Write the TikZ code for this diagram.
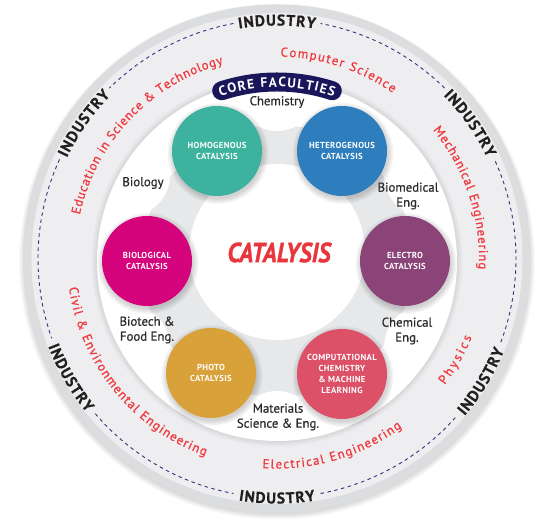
\documentclass[tikz,border=0pt]{standalone}
\usepackage{fontspec}
\setmainfont{PT Sans}
\usepackage{graphicx}
\usetikzlibrary{decorations.text}

\definecolor{rimgray}{HTML}{DCDDDF}
\definecolor{ringgray}{HTML}{EEEEF0}
\definecolor{neckgray}{HTML}{E7E8EA}
\definecolor{dashnavy}{HTML}{34317A}
\definecolor{indtext}{HTML}{231F20}
\definecolor{fieldred}{HTML}{EE3A3F}
\definecolor{bannernavy}{HTML}{1A165C}
\definecolor{labeltext}{HTML}{2A2A2A}
\definecolor{homocol}{HTML}{3DB29E}
\definecolor{heterocol}{HTML}{2E7EBE}
\definecolor{biocol}{HTML}{D5037C}
\definecolor{electrocol}{HTML}{8B4478}
\definecolor{photocol}{HTML}{D9A13A}
\definecolor{compcol}{HTML}{DC5068}
\definecolor{catred}{HTML}{E8363C}

\begin{document}
\begin{tikzpicture}[x=1pt,y=1pt,
  catcircle/.style={circle, minimum size=90pt, inner sep=0pt, text=white, align=center,
    font=\bfseries\fontsize{8.7}{10.7}\selectfont\addfontfeature{LetterSpace=4}},
  fieldlabel/.style={text=labeltext, align=center, inner sep=0pt,
    font=\fontsize{12.8}{15}\selectfont\addfontfeature{FakeBold=0.6}},
  dashline/.style={dashnavy, line width=0.9pt, dash pattern=on 3.5pt off 3.5pt},
  industrytext/.style={decorate, decoration={text along path, text align=fit to path,
    text={|\fontsize{15.5}{18}\selectfont\bfseries\addfontfeature{FakeBold=0.5}\color{indtext}|INDUSTRY}}},
  fieldtext/.style={decorate, decoration={text along path, text align=fit to path,
    text={|\fontsize{12.8}{14}\selectfont\addfontfeature{FakeBold=0.9}\color{fieldred}|#1}}},
  bannertext/.style={decorate, decoration={text along path, text align=fit to path,
    text={|\fontsize{13.5}{15}\selectfont\bfseries\color{white}|CORE FACULTIES}}}
]
\useasboundingbox (0,0) rectangle (549,524);
\fill[white] (0,0) rectangle (549,524);
\coordinate (C0) at (277,265.5);
\coordinate (C1) at (277,263);

% outer disc with soft shadow
\foreach \k in {1,...,6} \fill[black, opacity=0.022] ([yshift=-3pt]C0) circle[radius=252+\k];
\fill[rimgray] (C0) circle[radius=254];
\fill[ringgray] (C0) circle[radius=245.5];

\begin{scope}[shift={(C0)}]
  % dashed circle
  \foreach \a/\b in {-139.5/-100.5, -79.5/-41.5, -20.5/24.5, 45.5/79.5, 100.5/134.5, 155.5/199.5}
    \draw[dashline] ({\a}:239) arc[start angle=\a, end angle=\b, radius=239];
  % INDUSTRY labels
  \foreach \c in {90,35,145}
    \path[industrytext] ({\c+9.4}:233) arc[start angle=\c+9.4, end angle=\c-9.4, radius=233];
  \foreach \c in {-90,-31,-150}
    \path[industrytext] ({\c-9}:245) arc[start angle=\c-9, end angle=\c+9, radius=245];
  % engineering fields
  \path[fieldtext={Computer Science}] (89:202) arc[start angle=89, end angle=55, radius=202];
  \path[fieldtext={Education in Science {\&} Technology}] (167.5:202) arc[start angle=167.5, end angle=105.5, radius=202];
  \path[fieldtext={Mechanical Engineering}] (39.5:202) arc[start angle=39.5, end angle=-3, radius=202];
  \path[fieldtext={Physics}] (-37:210) arc[start angle=-37, end angle=-22, radius=210];
  \path[fieldtext={Electrical Engineering}] (-94:210) arc[start angle=-94, end angle=-53.5, radius=210];
  \path[fieldtext={Civil {\&} Environmental Engineering}] (-172:210) arc[start angle=-172, end angle=-110, radius=210];
\end{scope}

% inner white disc
\foreach \k in {1,...,5} \fill[black, opacity=0.02] (C1) circle[radius=179+1.3*\k];
\fill[white] (C1) circle[radius=180];

\begin{scope}[shift={(C1)}]
  \clip (0,0) circle[radius=179.5];
  \fill[neckgray] (0,0) circle[radius=136];
  \foreach \a in {90,30,-30,-90,-150,150}
    \fill[white] (\a:170) circle[radius=40];
\end{scope}
\fill[white] (277,272) circle[radius=88];

% core faculties banner
\begin{scope}[shift={(C1)}]
  \draw[bannernavy, line width=19pt, line cap=round] (108:179) arc[start angle=108, end angle=72, radius=179];
  \path[bannertext] (109:174) arc[start angle=109, end angle=71, radius=174];
\end{scope}

% circle shadows
\foreach \p in {(217,373),(342,373),(147,263),(405,263),(211,151),(342,150)}
  \foreach \k in {1,...,5}
    \fill[black, opacity=0.035] \p ++(1,-2.5) circle[radius=44+1.3*\k];

% catalysis areas
\node[catcircle, fill=homocol] (homo) at (217,373) {HOMOGENOUS\\CATALYSIS};
\node[catcircle, fill=heterocol] (hetero) at (342,373) {HETEROGENOUS\\CATALYSIS};
\node[catcircle, fill=biocol] (bio) at (147,263) {BIOLOGICAL\\CATALYSIS};
\node[catcircle, fill=electrocol] (electro) at (405,263) {ELECTRO\\CATALYSIS};
\node[catcircle, fill=photocol] (photo) at (211,151) {PHOTO\\CATALYSIS};
\node[catcircle, fill=compcol] (comp) at (342,150) {COMPUTATIONAL\\CHEMISTRY\\\& MACHINE\\LEARNING};

% core faculty labels
\node[fieldlabel] (chem) at (277,422) {Chemistry};
\node[fieldlabel] (biol) at (143,341) {Biology};
\node[fieldlabel] (biomed) at (408,328) {Biomedical\\Eng.};
\node[fieldlabel] (biotech) at (147,194) {Biotech \&\\Food Eng.};
\node[fieldlabel] (cheng) at (407,193) {Chemical\\Eng.};
\node[fieldlabel] (mat) at (278,107) {Materials\\Science \& Eng.};

\node[text=catred, font=\bfseries\itshape\fontsize{24}{28}\selectfont\addfontfeature{FakeBold=1.2}] (cat) at (279,271.5) {\scalebox{1}[1.15]{CATALYSIS}};
\end{tikzpicture}
\end{document}
